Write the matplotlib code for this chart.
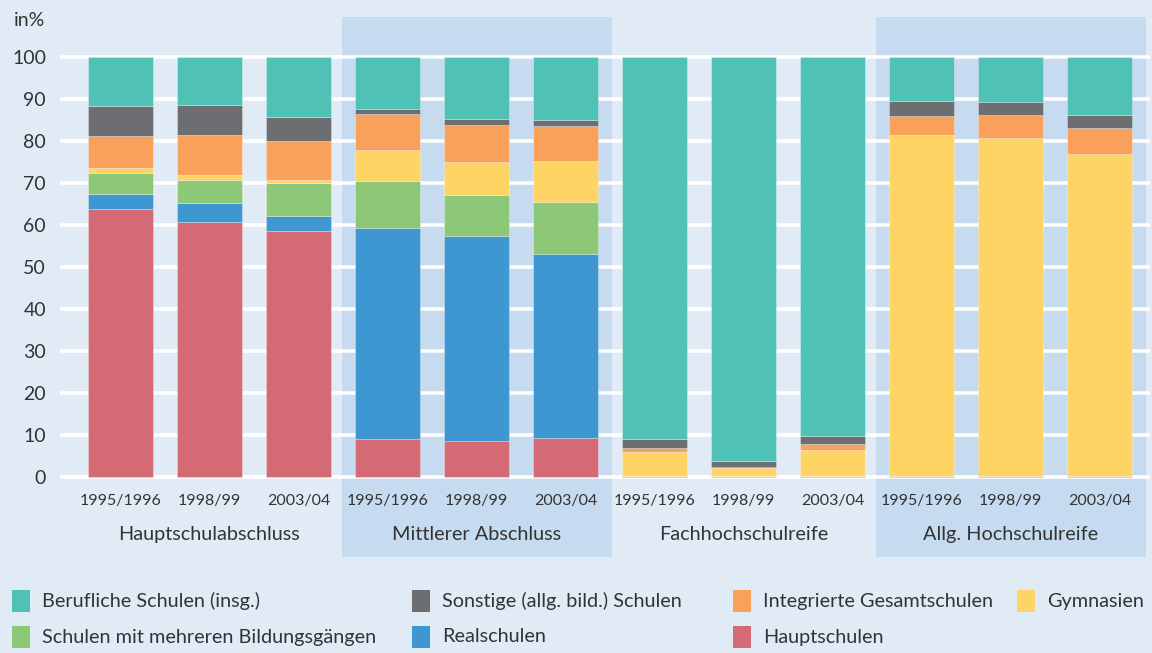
import matplotlib
matplotlib.use("Agg")
import matplotlib.pyplot as plt
from matplotlib.patches import Rectangle
import matplotlib.transforms as mtransforms

years = ["1995/1996", "1998/99", "2003/04"] * 4
groups = ["Hauptschulabschluss", "Mittlerer Abschluss", "Fachhochschulreife", "Allg. Hochschulreife"]

hauptschulen = [63.7, 60.7, 58.5, 9.0, 8.5, 9.4, 0.3, 0.2, 0.2, 0.3, 0.3, 0.3]
realschulen = [3.6, 4.5, 3.7, 50.2, 49.0, 43.7, 0, 0, 0, 0, 0, 0]
mehrere = [5.0, 5.6, 7.7, 11.3, 9.7, 12.3, 0, 0, 0, 0, 0, 0]
gymnasien = [1.2, 1.1, 0.9, 7.4, 7.7, 9.8, 5.7, 1.9, 6.2, 81.2, 80.3, 76.7]
gesamtschulen = [7.7, 9.5, 9.2, 8.6, 8.9, 8.3, 1.0, 0.4, 1.5, 4.5, 5.7, 6.0]
sonstige = [7.1, 7.2, 5.6, 1.1, 1.5, 1.5, 2.0, 1.2, 1.9, 3.5, 2.9, 3.3]
berufliche = [11.7, 11.4, 14.4, 12.4, 14.7, 15.0, 91.0, 96.3, 90.2, 10.5, 10.8, 13.7]

series = [
    ("Hauptschulen", hauptschulen, "#d46b74"),
    ("Realschulen", realschulen, "#3e97d1"),
    ("Schulen mit mehreren Bildungsgängen", mehrere, "#8cc878"),
    ("Gymnasien", gymnasien, "#fed465"),
    ("Integrierte Gesamtschulen", gesamtschulen, "#f9a15b"),
    ("Sonstige (allg. bild.) Schulen", sonstige, "#6d6e71"),
    ("Berufliche Schulen (insg.)", berufliche, "#4fc1b5"),
]

BG = "#e1ebf6"
SHADE = "#c6dbef"
TXT = "#333333"
plt.rcParams['font.family'] = ['Lato', 'DejaVu Sans']

fig = plt.figure(figsize=(11.52, 6.53), dpi=100, facecolor=BG)
W, H = 1152, 653
ax = fig.add_axes([60 / W, (653 - 485.4) / H, (1150 - 60) / W, (485.4 - 52.8) / H])
ax.set_facecolor("none")
x0 = (60 - 120.5) / 89
x1 = (1150 - 120.5) / 89
ax.set_xlim(x0, x1)
ax.set_ylim(-2, 101)

# shaded group backgrounds (groups 2 and 4)
trans = mtransforms.blended_transform_factory(ax.transData, fig.transFigure)
for c in [4, 10]:
    r = Rectangle((c - 135 / 89, (653 - 557) / H), 270 / 89, (557 - 17) / H,
                  transform=trans, facecolor=SHADE, edgecolor="none", zorder=0, clip_on=False)
    fig.add_artist(r)

# gridlines
for v in range(0, 101, 10):
    ax.axhline(v, color="white", lw=2.6, zorder=1)

xs = list(range(12))
bottom = [0.0] * 12
for name, vals, col in series:
    ax.bar(xs, vals, bottom=bottom, width=65 / 89, color=col, edgecolor=(1, 1, 1, 0.35),
           linewidth=0.6, zorder=2)
    bottom = [b + v for b, v in zip(bottom, vals)]

for s in ax.spines.values():
    s.set_visible(False)
ax.set_xticks([])
ax.set_yticks(range(0, 101, 10))
ax.tick_params(axis="y", length=0, pad=10, labelsize=14, labelcolor=TXT)

# year labels
for i, y in enumerate(years):
    ax.text(i, -5.6, y, ha="center", va="center", fontsize=11.5, color=TXT, clip_on=False)
for g, name in enumerate(groups):
    ax.text(g * 3 + 1, -13.8, name, ha="center", va="center", fontsize=14.3, color=TXT, clip_on=False)

fig.text(30 / W, 1 - 20 / H, "in%", ha="center", va="center", fontsize=14, color=TXT)

# legend
leg = [
    ("Berufliche Schulen (insg.)", "#4fc1b5", 12, 601),
    ("Sonstige (allg. bild.) Schulen", "#6d6e71", 412, 601),
    ("Integrierte Gesamtschulen", "#f9a15b", 733, 601),
    ("Gymnasien", "#fed465", 1017, 601),
    ("Schulen mit mehreren Bildungsgängen", "#8cc878", 12, 637),
    ("Realschulen", "#3e97d1", 412, 637),
    ("Hauptschulen", "#d46b74", 733, 637),
]
for name, col, px, py in leg:
    fig.add_artist(Rectangle((px / W, 1 - (py + 11) / H), 18 / W, 22 / H,
                             transform=fig.transFigure, facecolor=col, edgecolor="none"))
    fig.text((px + 30) / W, 1 - py / H, name, ha="left", va="center", fontsize=14.3, color=TXT)

fig.savefig("out.png", dpi=100, facecolor=BG)
